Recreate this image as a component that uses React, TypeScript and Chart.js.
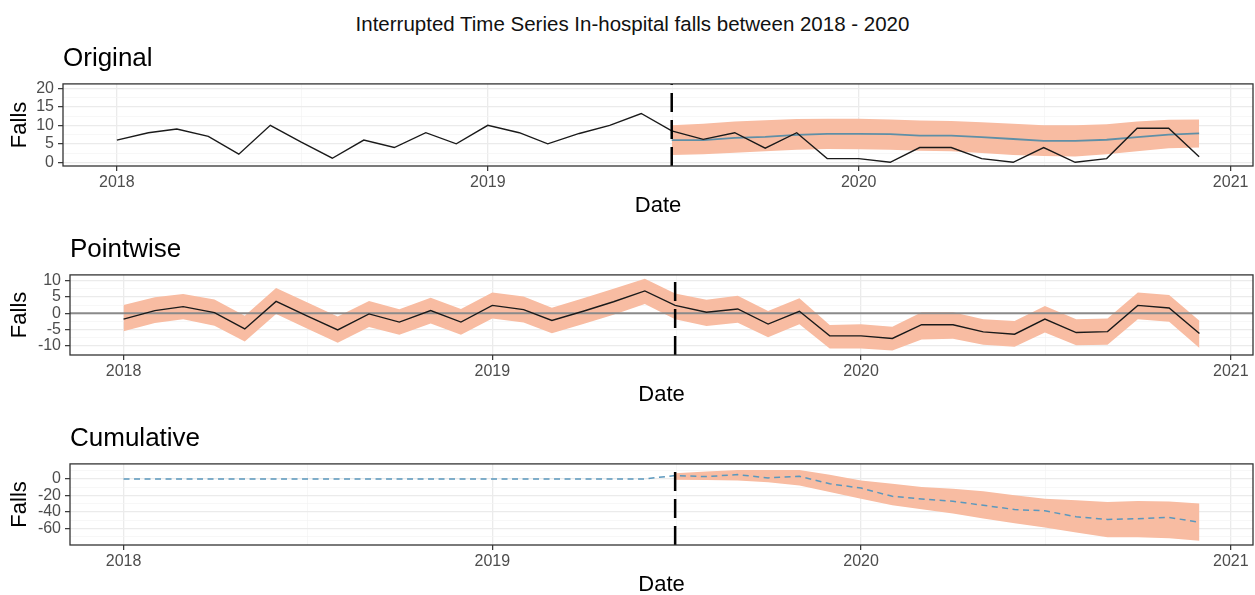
import React, { useEffect, useRef } from 'react';
import { Chart, registerables } from 'chart.js';

Chart.register(...registerables);

const FONT = "'Liberation Sans', Arial, Helvetica, sans-serif";
Chart.defaults.font.family = FONT;

// ---------------- data ----------------
const MAIN_TITLE = 'Interrupted Time Series In-hospital falls between 2018 - 2020';
const PANEL_TITLES = ['Original', 'Pointwise', 'Cumulative'];
const X_TITLE = 'Date';
const Y_TITLE = 'Falls';

const MONTHS = [
  '2018-01', '2018-02', '2018-03', '2018-04', '2018-05', '2018-06',
  '2018-07', '2018-08', '2018-09', '2018-10', '2018-11', '2018-12',
  '2019-01', '2019-02', '2019-03', '2019-04', '2019-05', '2019-06',
  '2019-07', '2019-08', '2019-09', '2019-10', '2019-11', '2019-12',
  '2020-01', '2020-02', '2020-03', '2020-04', '2020-05', '2020-06',
  '2020-07', '2020-08', '2020-09', '2020-10', '2020-11', '2020-12',
];
const POST_MONTHS = MONTHS.slice(18);
const INTERVENTION = '2019-07-01';

const OBSERVED = [
  6, 8, 9, 7, 2.2, 10, 5.5, 1.1, 6, 4, 8, 5,
  10, 8, 5, 7.8, 10, 13.2, 8.5, 6.2, 8, 3.8, 8, 1,
  1, 0, 4, 4, 1, 0, 4, 0, 1, 9.2, 9.2, 1.5,
];
const PREDICTED = [6.0, 6.0, 6.6, 6.9, 7.4, 7.7, 7.7, 7.6, 7.2, 7.2, 6.8, 6.3, 5.8, 5.8, 6.1, 6.8, 7.5, 7.8];
const PREDICTED_UPPER = [10.0, 10.4, 11.0, 11.4, 11.7, 11.8, 11.8, 11.6, 11.3, 11.2, 10.8, 10.4, 10.0, 10.0, 10.3, 11.0, 11.5, 11.6];
const PREDICTED_LOWER = [2.0, 2.2, 2.6, 3.0, 3.4, 3.6, 3.5, 3.4, 3.1, 3.0, 2.5, 2.0, 1.7, 1.6, 2.2, 3.0, 3.8, 4.0];

const POINTWISE = [
  -1.8, 0.8, 2.0, 0.2, -4.8, 3.6, -0.7, -5.1, -0.2, -2.7, 0.8, -2.7,
  2.4, 1.1, -2.2, 0.6, 3.5, 6.8, 2.4, 0.3, 1.3, -3.3, 0.6, -6.9,
  -6.9, -7.7, -3.5, -3.5, -5.7, -6.4, -1.8, -5.9, -5.6, 2.4, 1.6, -6.2,
];
const POINTWISE_UPPER = [
  2.5, 4.9, 5.9, 4.2, -0.8, 7.7, 3.4, -1.0, 3.7, 1.2, 4.7, 1.3,
  6.3, 5.1, 1.7, 4.6, 7.5, 10.5, 6.0, 4.1, 5.3, 0.7, 4.6, -3.6,
  -3.4, -4.1, 0.3, 0.3, -1.8, -2.4, 2.2, -1.8, -1.6, 6.3, 5.6, -2.3,
];
const POINTWISE_LOWER = [
  -5.5, -3.0, -1.8, -3.8, -8.6, -0.2, -4.6, -9.0, -4.2, -6.6, -3.1, -6.6,
  -1.6, -2.8, -6.1, -3.3, -0.5, 2.8, -1.8, -3.9, -2.9, -7.3, -3.4, -10.8,
  -10.8, -11.4, -8.0, -7.8, -9.6, -10.2, -5.9, -9.8, -9.6, -1.8, -2.6, -10.6,
];

const CUMULATIVE = [
  0, 0, 0, 0, 0, 0, 0, 0, 0, 0, 0, 0,
  0, 0, 0, 0, 0, 0, 4.0, 2.8, 5.2, 1.2, 3.2, -6.0,
  -11.2, -21.2, -24.4, -27.2, -32.0, -37.2, -38.8, -46.0, -49.2, -48.4, -46.8, -52.8,
];
const CUMULATIVE_UPPER = [6.8, 9.0, 10.8, 10.8, 10.8, 5.0, -2.0, -6.0, -10.0, -12.0, -15.0, -20.0, -24.0, -26.0, -28.0, -27.0, -27.5, -30.0];
const CUMULATIVE_LOWER = [-1.2, -1.5, -2.0, -4.0, -8.0, -16.0, -24.0, -32.0, -37.0, -42.0, -48.0, -54.0, -59.0, -65.0, -71.0, -71.0, -72.0, -75.0];

const X_RANGE = ['2017-11-09', '2021-01-23'];
const X_MAJOR = ['2018-01-01', '2019-01-01', '2020-01-01', '2021-01-01'];
const X_LABELS = ['2018', '2019', '2020', '2021'];
const X_MINOR = ['2018-07-02', '2019-07-02', '2020-07-02'];

const Y1_RANGE = [-1.0, 21.2];
const Y1_MAJOR = [0, 5, 10, 15, 20];
const Y1_MINOR = [2.5, 7.5, 12.5, 17.5];
const Y2_RANGE = [-12.75, 11.7];
const Y2_MAJOR = [-10, -5, 0, 5, 10];
const Y2_MINOR = [-7.5, -2.5, 2.5, 7.5];
const Y3_RANGE = [-80.3, 18.2];
const Y3_MAJOR = [-60, -40, -20, 0];
const Y3_MINOR = [-70, -50, -30, -10, 10];

// ---------------- styles ----------------
const BAND = '#F8BCA2';
const LINE_BLACK = '#1a1a1a';
const LINE_BLUE = '#5f8fa6';
const DASH_BLUE = '#5b98bd';

const ts = (s: string) => {
  const [y, m, d] = s.split('-').map(Number);
  return Date.UTC(y, m - 1, d || 1);
};
const pts = (months: string[], vals: number[]) => months.map((m, i) => ({ x: ts(m), y: vals[i] }));

const panelDecor = {
  id: 'panelDecor',
  beforeDatasetDraw(chart: any, args: any, opts: any) {
    if (opts.zeroLine && args.index === opts.zeroBeforeIndex) {
      const { ctx, chartArea: a, scales } = chart;
      const py = scales.y.getPixelForValue(0);
      ctx.save();
      ctx.strokeStyle = '#8a8a8a';
      ctx.lineWidth = 2;
      ctx.beginPath();
      ctx.moveTo(a.left, py);
      ctx.lineTo(a.right, py);
      ctx.stroke();
      ctx.restore();
    }
  },
  afterDatasetsDraw(chart: any, _args: any, opts: any) {
    const { ctx, chartArea: a, scales } = chart;
    const px = scales.x.getPixelForValue(ts(opts.vline));
    ctx.save();
    ctx.strokeStyle = '#000';
    ctx.lineWidth = 2.5;
    ctx.setLineDash([19, 8]);
    ctx.beginPath();
    ctx.moveTo(px, a.bottom);
    ctx.lineTo(px, a.top);
    ctx.stroke();
    ctx.restore();
    ctx.save();
    ctx.strokeStyle = '#333333';
    ctx.lineWidth = 1.3;
    ctx.strokeRect(a.left, a.top, a.right - a.left, a.bottom - a.top);
    ctx.restore();
  },
};

function gridFor(major: Set<number>) {
  return {
    color: (c: any) => (c.tick && major.has(c.tick.value) ? '#EBEBEB' : '#F3F3F3'),
    lineWidth: (c: any) => (c.tick && major.has(c.tick.value) ? 1.3 : 0.7),
    tickColor: (c: any) => (c.tick && major.has(c.tick.value) ? '#333333' : 'rgba(0,0,0,0)'),
    tickWidth: 1.2,
    tickLength: 5,
    drawTicks: true,
  };
}

function buildConfig(title: string, yRange: number[], yMajor: number[], yMinor: number[], yWidth: number,
  datasets: any[], extra: any) {
  const xMajorVals = X_MAJOR.map(ts);
  const xMajorSet = new Set(xMajorVals);
  const xLabel = new Map(xMajorVals.map((v, i) => [v, X_LABELS[i]]));
  const xTicks = [...xMajorVals, ...X_MINOR.map(ts)].sort((a, b) => a - b);
  const yMajorSet = new Set(yMajor);
  const yTicks = [...yMajor, ...yMinor].sort((a, b) => a - b);
  return {
    type: 'line',
    data: { datasets },
    plugins: [panelDecor],
    options: {
      animation: false,
      responsive: false,
      maintainAspectRatio: false,
      events: [],
      layout: { padding: { left: 0, right: 2, top: 0, bottom: 0 } },
      elements: { point: { radius: 0 }, line: { tension: 0 } },
      plugins: {
        legend: { display: false },
        tooltip: { enabled: false },
        title: {
          display: true, text: title, align: 'start', fullSize: false, color: '#000',
          font: { size: 26, weight: 'normal', lineHeight: 1.15 }, padding: { top: 4, bottom: 10 },
        },
        panelDecor: { vline: INTERVENTION, ...extra },
      },
      scales: {
        x: {
          type: 'linear',
          min: ts(X_RANGE[0]),
          max: ts(X_RANGE[1]),
          afterBuildTicks: (s: any) => { s.ticks = xTicks.map((v) => ({ value: v })); },
          ticks: {
            autoSkip: false, maxRotation: 0, minRotation: 0, color: '#4D4D4D',
            font: { size: 16 }, padding: 2,
            callback: (v: number) => xLabel.get(v) ?? '',
          },
          grid: gridFor(xMajorSet),
          border: { display: false },
          title: { display: true, text: X_TITLE, color: '#000', font: { size: 22, lineHeight: 1.2 }, padding: { top: 0, bottom: 6 } },
          afterFit: (s: any) => { s.height = 59; },
        },
        y: {
          type: 'linear',
          min: yRange[0],
          max: yRange[1],
          afterBuildTicks: (s: any) => { s.ticks = yTicks.map((v) => ({ value: v })); },
          ticks: {
            autoSkip: false, color: '#4D4D4D', font: { size: 16 }, padding: 4,
            callback: (v: number) => (yMajorSet.has(v) ? String(v) : ''),
          },
          grid: gridFor(yMajorSet),
          border: { display: false },
          title: { display: true, text: Y_TITLE, color: '#000', font: { size: 22, lineHeight: 1.2 }, padding: { top: 7, bottom: 0 } },
          afterFit: (s: any) => { s.width = yWidth; },
        },
      },
    },
  };
}

// Chart.js draws higher "order" first, so the bands get a high order (underneath)
const bandLower = (data: any[]) => ({ data, order: 10, borderWidth: 0, borderColor: 'rgba(0,0,0,0)', pointRadius: 0, fill: false });
const bandUpper = (data: any[]) => ({ data, order: 9, borderWidth: 0, borderColor: 'rgba(0,0,0,0)', backgroundColor: BAND, pointRadius: 0, fill: '-1' });

function config1() {
  return buildConfig(PANEL_TITLES[0], Y1_RANGE, Y1_MAJOR, Y1_MINOR, 63, [
    bandLower(pts(POST_MONTHS, PREDICTED_LOWER)),
    bandUpper(pts(POST_MONTHS, PREDICTED_UPPER)),
    { data: pts(POST_MONTHS, PREDICTED), order: 2, borderColor: LINE_BLUE, borderWidth: 1.8, fill: false },
    { data: pts(MONTHS, OBSERVED), order: 1, borderColor: LINE_BLACK, borderWidth: 1.4, fill: false },
  ], {});
}
function config2() {
  return buildConfig(PANEL_TITLES[1], Y2_RANGE, Y2_MAJOR, Y2_MINOR, 70, [
    bandLower(pts(MONTHS, POINTWISE_LOWER)),
    bandUpper(pts(MONTHS, POINTWISE_UPPER)),
    { data: pts(MONTHS, POINTWISE), order: 1, borderColor: LINE_BLACK, borderWidth: 1.4, fill: false },
  ], { zeroLine: true, zeroBeforeIndex: 2 });
}
function config3() {
  return buildConfig(PANEL_TITLES[2], Y3_RANGE, Y3_MAJOR, Y3_MINOR, 70, [
    bandLower(pts(POST_MONTHS, CUMULATIVE_LOWER)),
    bandUpper(pts(POST_MONTHS, CUMULATIVE_UPPER)),
    { data: pts(MONTHS, CUMULATIVE), order: 1, borderColor: DASH_BLUE, borderWidth: 1.5, borderDash: [6, 4.5], fill: false },
  ], {});
}

function Panel({ top, height, make }: { top: number; height: number; make: () => any }) {
  const ref = useRef<HTMLCanvasElement | null>(null);
  useEffect(() => {
    if (!ref.current) return;
    const chart = new Chart(ref.current, make());
    return () => chart.destroy();
  }, []);
  return (
    <canvas
      ref={ref}
      width={1255}
      height={height}
      style={{ position: 'absolute', left: 0, top, width: 1255, height, display: 'block' }}
    />
  );
}

export default function App() {
  return (
    <div style={{ position: 'fixed', left: 0, top: 0, width: 1255, height: 595, background: '#fff', overflow: 'hidden' }}>
      <div
        style={{
          position: 'absolute', left: 5, top: 12, width: 1255, textAlign: 'center',
          fontFamily: FONT, fontSize: 20.5, lineHeight: '24px', color: '#111',
        }}
      >
        {MAIN_TITLE}
      </div>
      <Panel top={40} height={185} make={config1} />
      <Panel top={231} height={183} make={config2} />
      <Panel top={420} height={184} make={config3} />
    </div>
  );
}
